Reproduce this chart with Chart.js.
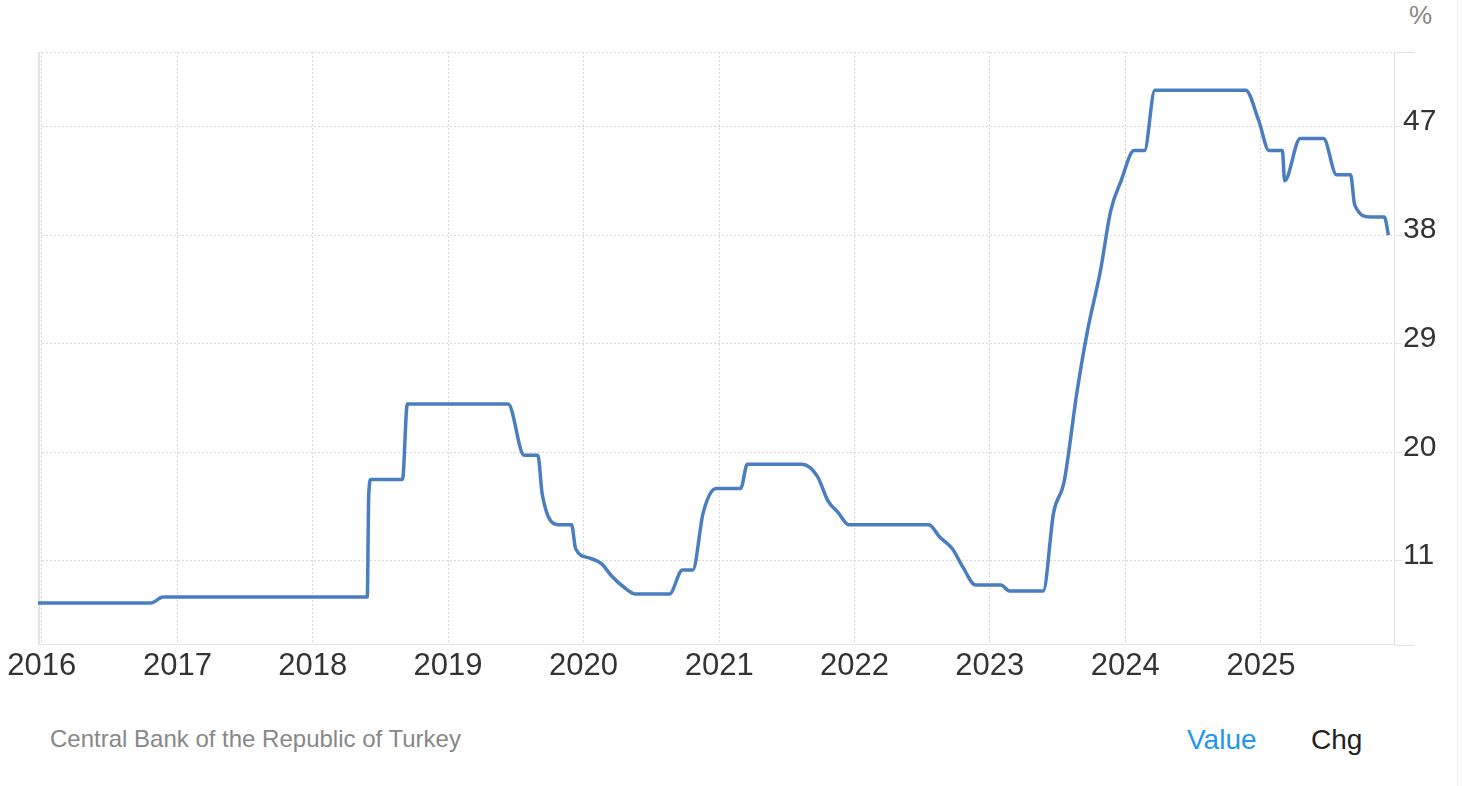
<!DOCTYPE html>
<html>
<head>
<meta charset="utf-8">
<title>Turkey Interest Rate</title>
<script src="https://cdn.jsdelivr.net/npm/chart.js@4.4.1/dist/chart.umd.min.js"></script>
<style>
    body { margin: 0; background: #fff; font-family: 'Liberation Sans', Arial, Helvetica, sans-serif; }
    #wrap { position: relative; width: 1462px; height: 786px; overflow: hidden; }
    #chartBox { position: absolute; left: 0; top: 0; width: 1462px; height: 700px; }
    .txt { position: absolute; white-space: nowrap; }
    #unit { left: 1409px; top: 2px; font-size: 26px; line-height: 26px; color: #888; }
    #source { left: 50px; top: 727px; font-size: 24px; line-height: 24px; color: #888; }
    #tabValue { left: 1187px; top: 726px; font-size: 28px; line-height: 28px; color: #2196f3; }
    #tabChg { left: 1311px; top: 726px; font-size: 28px; line-height: 28px; color: #222; }
    #edge { position: absolute; left: 1457px; top: 0; width: 1px; height: 786px; background: #f0f0f0; }
</style>
</head>
<body>
<div id="wrap">
    <div class="txt" id="unit">%</div>
    <div id="chartBox"><canvas id="rateChart"></canvas></div>
    <div class="txt" id="source">Central Bank of the Republic of Turkey</div>
    <div class="txt" id="tabValue">Value</div>
    <div class="txt" id="tabChg">Chg</div>
    <div id="edge"></div>
</div>
<script>
// policy rate (one-week repo), points at each change / meeting
const dates = [
    '2015-12-22', '2016-10-20', '2016-11-24', '2018-05-28', '2018-06-01', '2018-06-07',
    '2018-08-31', '2018-09-13', '2019-06-12', '2019-07-25', '2019-08-31', '2019-09-12',
    '2019-10-24', '2019-11-30', '2019-12-11', '2020-01-16', '2020-02-19', '2020-03-17',
    '2020-04-22', '2020-05-21', '2020-08-20', '2020-09-24', '2020-10-22', '2020-11-19',
    '2020-12-24', '2021-02-28', '2021-03-18', '2021-08-12', '2021-09-23', '2021-10-21',
    '2021-11-18', '2021-12-16', '2022-07-21', '2022-08-18', '2022-09-22', '2022-10-20',
    '2022-11-24', '2023-01-31', '2023-02-23', '2023-05-25', '2023-06-22', '2023-07-20',
    '2023-08-24', '2023-09-21', '2023-10-26', '2023-11-23', '2023-12-21', '2024-01-25',
    '2024-02-22', '2024-03-21', '2024-11-21', '2024-12-26', '2025-01-23', '2025-02-28',
    '2025-03-06', '2025-04-17', '2025-06-19', '2025-07-24', '2025-08-31', '2025-09-11',
    '2025-10-23', '2025-11-30', '2025-12-11'
];
const rates = [
    7.5, 7.5, 8, 8, 16.5, 17.75,
    17.75, 24, 24, 19.75, 19.75, 16.5,
    14, 14, 12, 11.25, 10.75, 9.75,
    8.75, 8.25, 8.25, 10.25, 10.25, 15,
    17, 17, 19, 19, 18, 16,
    15, 14, 14, 13, 12, 10.5,
    9, 9, 8.5, 8.5, 15, 17.5,
    25, 30, 35, 40, 42.5, 45,
    45, 50, 50, 47.5, 45, 45,
    42.5, 46, 46, 43, 43, 40.5,
    39.5, 39.5, 38
];

const yearTicks = [2016, 2017, 2018, 2019, 2020, 2021, 2022, 2023, 2024, 2025];
const yTicks = [11, 20, 29, 38, 47];

const yMin = 4.07;
const yMax = 53.17;

function toTime(s) {
    const p = s.split('-');
    return Date.UTC(+p[0], +p[1] - 1, +p[2]);
}

const xMin = toTime('2015-12-22');
const xMax = toTime('2025-12-26');

const points = dates.map((d, i) => ({ x: toTime(d), y: rates[i] }));

const fontFamily = "'Liberation Sans', Arial, Helvetica, sans-serif";

// solid left edge + short lines sticking out past the right axis
const frameLines = {
    id: 'frameLines',
    beforeDatasetsDraw(chart) {
        const a = chart.chartArea;
        const ctx = chart.ctx;
        ctx.save();
        ctx.strokeStyle = '#e3e3e3';
        ctx.lineWidth = 2;
        ctx.beginPath();
        ctx.moveTo(a.left + 1, a.top);
        ctx.lineTo(a.left + 1, a.bottom);
        ctx.stroke();
        ctx.lineWidth = 1;
        ctx.beginPath();
        ctx.moveTo(a.right, Math.round(a.top) + 0.5);
        ctx.lineTo(a.right + 20, Math.round(a.top) + 0.5);
        ctx.moveTo(a.right, Math.round(a.bottom) + 0.5);
        ctx.lineTo(a.right + 20, Math.round(a.bottom) + 0.5);
        ctx.stroke();
        ctx.restore();
    }
};

const ctx = document.getElementById('rateChart').getContext('2d');
window.rateChart = new Chart(ctx, {
    type: 'line',
    data: {
        datasets: [{
            label: 'Interest Rate',
            data: points,
            borderColor: '#4a7ec0',
            borderWidth: 3.5,
            pointRadius: 0,
            fill: false,
            cubicInterpolationMode: 'monotone'
        }]
    },
    options: {
        responsive: true,
        maintainAspectRatio: false,
        animation: false,
        events: [],
        layout: { padding: { left: 38, top: 52, right: 8, bottom: 10.5 } },
        plugins: { legend: { display: false }, tooltip: { enabled: false } },
        scales: {
            x: {
                type: 'linear',
                min: xMin,
                max: xMax,
                afterBuildTicks: s => { s.ticks = yearTicks.map(y => ({ value: Date.UTC(y, 0, 1) })); },
                afterFit: s => { s.height = 45; },
                grid: { color: '#d8d8d8', drawTicks: false },
                border: { display: true, color: '#e3e3e3', width: 1, dash: [2, 2] },
                ticks: {
                    color: '#333',
                    font: { size: 31, family: fontFamily },
                    padding: 3,
                    maxRotation: 0,
                    autoSkip: false,
                    callback: v => String(new Date(v).getUTCFullYear())
                }
            },
            y: {
                position: 'right',
                min: yMin,
                max: yMax,
                afterBuildTicks: s => { s.ticks = yTicks.concat([yMax]).map(v => ({ value: v })); },
                afterFit: s => { s.width = 60; },
                grid: { color: '#d8d8d8', tickColor: '#e3e3e3', tickLength: 8, tickBorderDash: [] },
                border: { display: true, color: '#e3e3e3', width: 1, dash: [2, 2] },
                ticks: {
                    color: '#333',
                    font: { size: 30, family: fontFamily },
                    padding: 1,
                    labelOffset: -5,
                    callback: v => yTicks.includes(v) ? String(v) : ''
                }
            }
        }
    },
    plugins: [frameLines]
});
</script>
</body>
</html>
